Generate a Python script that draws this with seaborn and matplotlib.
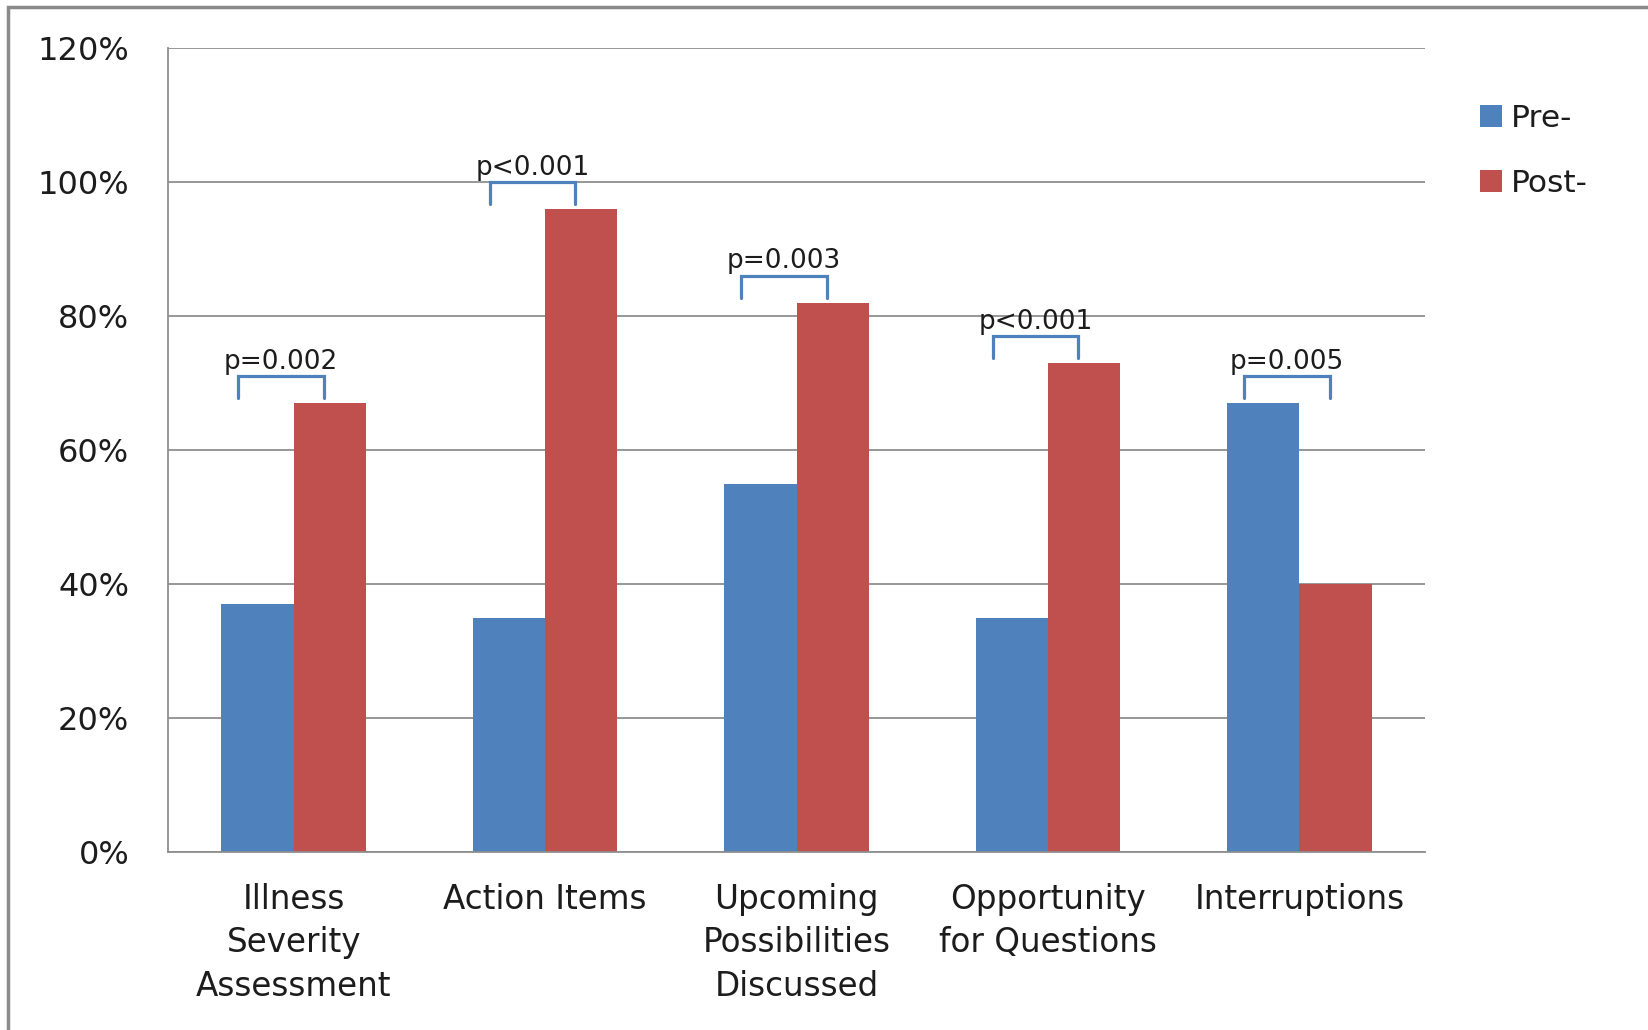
import numpy as np
import pandas as pd
import matplotlib
matplotlib.use("Agg")
import matplotlib.pyplot as plt
from matplotlib.patches import Rectangle
import seaborn as sns

# data
categories = ["Illness\nSeverity\nAssessment", "Action Items",
              "Upcoming\nPossibilities\nDiscussed", "Opportunity\nfor Questions",
              "Interruptions"]
pre = [37, 35, 55, 35, 67]
post = [67, 96, 82, 73, 40]
p_values = ["p=0.002", "p<0.001", "p=0.003", "p<0.001", "p=0.005"]
series = ["Pre-", "Post-"]
y_ticks = [0, 20, 40, 60, 80, 100, 120]

df = pd.DataFrame({
    "Category": categories * 2,
    "Value": pre + post,
    "Phase": [series[0]] * len(pre) + [series[1]] * len(post),
})

sns.set_style("white")
plt.rcParams["font.family"] = ["DejaVu Sans"]
text_color = "#1c1c1c"
grid_color = "#8f8f8f"
blue, red = "#4F81BD", "#C0504D"

fig = plt.figure(figsize=(16.49, 10.30), dpi=100)
ax = fig.add_axes([0.1019, 0.1728, 0.7623, 0.7806])

sns.barplot(data=df, x="Category", y="Value", hue="Phase", palette=[blue, red],
            width=0.575, saturation=1, linewidth=0, ax=ax)

ax.set_ylim(0, 120)
ax.set_xlim(-0.5, 4.5)
ax.set_yticks(y_ticks)
ax.set_yticklabels([f"{v}%" for v in y_ticks], fontsize=23, color=text_color)
ax.set_xticklabels(categories, fontsize=23.5, color=text_color, linespacing=1.42)
ax.set_xlabel("")
ax.set_ylabel("")

ax.yaxis.grid(True, color=grid_color, lw=1.3)
ax.set_axisbelow(True)
for s in ["top", "right"]:
    ax.spines[s].set_visible(False)
for s in ["left", "bottom"]:
    ax.spines[s].set_color(grid_color)
    ax.spines[s].set_linewidth(1.3)

ax.set_xticks(np.arange(-0.5, 5, 1), minor=True)
ax.tick_params(axis="x", which="major", length=0, pad=22)
ax.tick_params(axis="x", which="minor", length=8, width=1.3, color=grid_color, direction="out")
ax.tick_params(axis="y", length=10, width=1.3, color=grid_color, direction="out", pad=18)

# significance brackets
for i, txt in enumerate(p_values):
    top = max(pre[i], post[i]) + 4
    left, right = i - 0.22, i + 0.12
    ax.plot([left, left, right, right], [top - 3.3, top, top, top - 3.3],
            color=blue, lw=2.3, solid_joinstyle="miter", clip_on=False)
    ax.text((left + right) / 2, top + 0.2, txt, ha="center", va="bottom",
            fontsize=19, color=text_color)

# legend outside on the right
handles, labels = ax.get_legend_handles_labels()
ax.legend(handles, labels, loc="upper left", bbox_to_anchor=(1452 / 1649, 1 - 76 / 1030),
          bbox_transform=fig.transFigure, frameon=False, fontsize=22.5,
          handlelength=0.7, handleheight=0.7, handletextpad=0.3, labelspacing=1.15,
          labelcolor=text_color)

# screenshot frame
fig.add_artist(Rectangle((8 / 1649, -0.1), 1.2, 1.1 - 7 / 1030, transform=fig.transFigure,
                         fill=False, ec="#8a8a8a", lw=2.5))

fig.savefig("out.png", dpi=100)
